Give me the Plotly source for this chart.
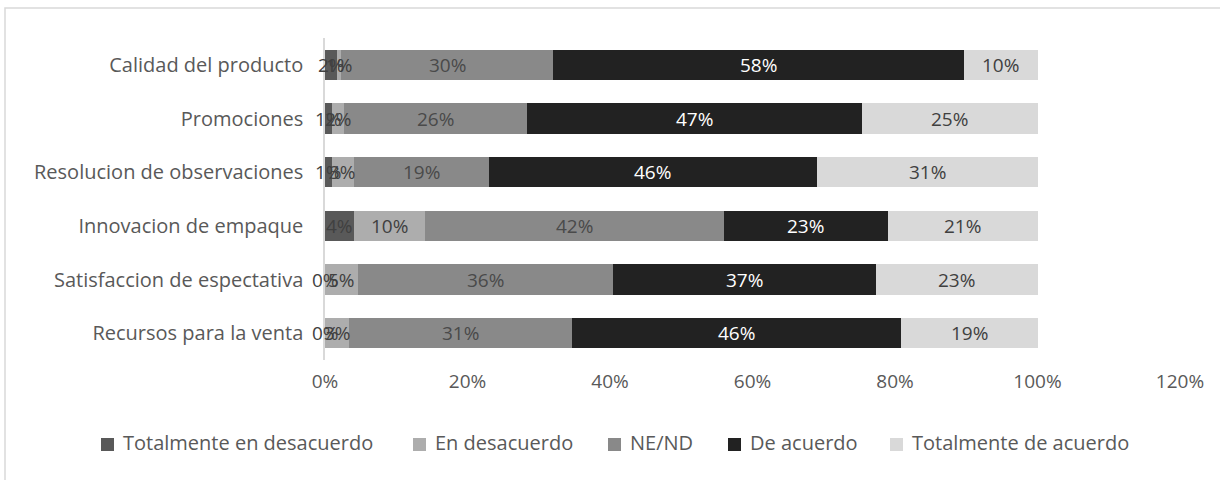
import plotly.graph_objects as go

categories = ["Calidad del producto", "Promociones", "Resolucion de observaciones",
              "Innovacion de empaque", "Satisfaccion de espectativa", "Recursos para la venta"]
series_names = ["Totalmente en desacuerdo", "En desacuerdo", "NE/ND", "De acuerdo", "Totalmente de acuerdo"]
tot_desacuerdo = [0.017, 0.010, 0.010, 0.040, 0.000, 0.000]
desacuerdo = [0.006, 0.017, 0.030, 0.100, 0.046, 0.034]
ne_nd = [0.297, 0.257, 0.190, 0.420, 0.358, 0.312]
de_acuerdo = [0.577, 0.469, 0.460, 0.230, 0.369, 0.462]
tot_acuerdo = [0.103, 0.247, 0.310, 0.210, 0.227, 0.192]
tick_vals = [0, 0.2, 0.4, 0.6, 0.8, 1.0, 1.2]
tick_text = ["0%", "20%", "40%", "60%", "80%", "100%", "120%"]

colors = ["#595959", "#ADADAD", "#898989", "#222222", "#D9D9D9"]
text_colors = ["#404040", "#404040", "#4A4A4A", "#FFFFFF", "#404040"]
values = [tot_desacuerdo, desacuerdo, ne_nd, de_acuerdo, tot_acuerdo]

FONT = "Open Sans"
W, H = 1220, 480
ML, MR, MT, MB = 325, 40, 38, 120
PW, PH = W - ML - MR, H - MT - MB


def px_x(px):
    return (px - ML) / PW


def px_y(py):
    return (H - MB - py) / PH


fig = go.Figure()
for name, vals, col in zip(series_names, values, colors):
    fig.add_trace(go.Bar(
        y=categories, x=vals, name=name, orientation="h",
        marker=dict(color=col, line=dict(width=0)),
        hoverinfo="skip", showlegend=False,
    ))

# data labels centred on each segment (positions from the data via the axes)
annotations = []
starts = [0.0] * len(categories)
for vals, tcol in zip(values, text_colors):
    for i, (cat, v) in enumerate(zip(categories, vals)):
        annotations.append(dict(
            x=starts[i] + v / 2, y=cat, xref="x", yref="y",
            text=f"{round(v * 100):.0f}%", showarrow=False,
            font=dict(color=tcol, size=19, family=FONT),
        ))
        starts[i] += v

# legend drawn in a single row below the axis (like the original)
legend_text_left = [121, 433, 628, 748, 910]
shapes = []
for name, col, tx in zip(series_names, colors, legend_text_left):
    annotations.append(dict(
        x=px_x(tx), y=px_y(443), xref="paper", yref="paper",
        xanchor="left", yanchor="middle", text=name, showarrow=False,
        font=dict(color="#595959", size=20, family=FONT),
    ))
    shapes.append(dict(type="rect", xref="paper", yref="paper",
                       x0=px_x(tx - 20), x1=px_x(tx - 7),
                       y0=px_y(451), y1=px_y(438),
                       fillcolor=col, line=dict(width=0)))

shapes.append(dict(type="rect", xref="paper", yref="paper",
                   x0=px_x(5), x1=px_x(1240), y0=px_y(520), y1=px_y(8),
                   line=dict(color="#D9D9D9", width=1.5), fillcolor="rgba(0,0,0,0)",
                   layer="below"))

fig.update_layout(
    barmode="stack",
    bargap=0.44,
    width=W, height=H,
    margin=dict(l=ML, r=MR, t=MT, b=MB),
    plot_bgcolor="white", paper_bgcolor="white",
    font=dict(family=FONT, size=19, color="#595959"),
    showlegend=False,
    xaxis=dict(range=[0, 1.2], tickvals=tick_vals, ticktext=tick_text,
               showgrid=False, zeroline=False, showline=False,
               tickfont=dict(size=19, color="#595959"), ticks="", ticklen=0,
               ticklabelstandoff=8),
    yaxis=dict(autorange="reversed", showgrid=False, zeroline=False,
               showline=True, linecolor="#D9D9D9", linewidth=1.5,
               ticks="", ticklabelstandoff=16,
               tickfont=dict(size=20, color="#595959")),
    annotations=annotations,
    shapes=shapes,
)

fig.write_html("out.html")
